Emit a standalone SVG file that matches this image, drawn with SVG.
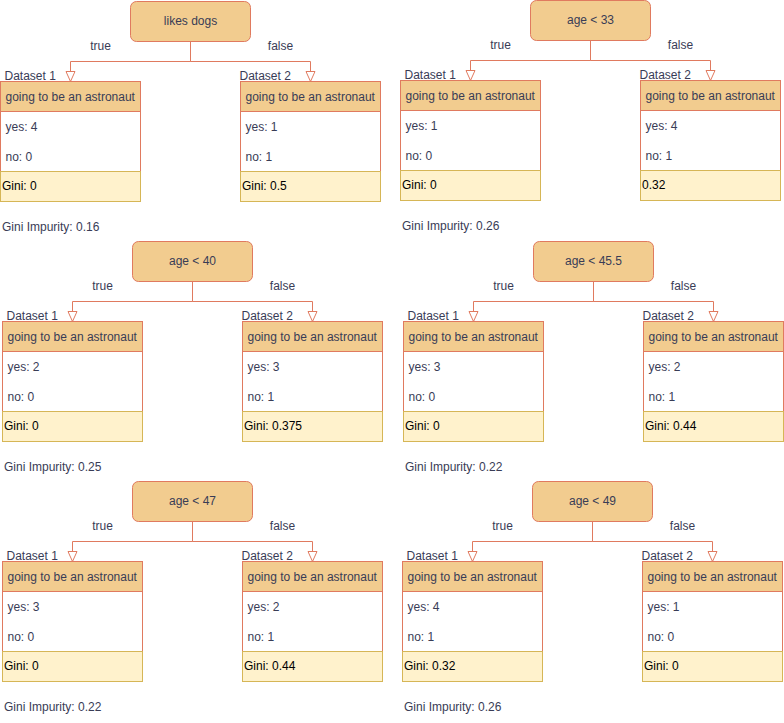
<svg xmlns="http://www.w3.org/2000/svg" width="784" height="723" viewBox="0 0 784 723">
<style>
text{font-family:"Liberation Sans",Arial,sans-serif;font-size:12px;fill:#393C56}
.c{text-anchor:middle}
.g{fill:#000}
.root{fill:#F2CC8F;stroke:#E07A5F;stroke-width:1}
.hdr{fill:#F2CC8F;stroke:#E07A5F;stroke-width:1}
.body{fill:#FFFFFF;stroke:#E07A5F;stroke-width:1}
.gini{fill:#FFF2CC;stroke:#D6B656;stroke-width:1}
.edge{fill:none;stroke:#E07A5F;stroke-width:1;marker-end:url(#arr)}
</style>
<defs>
<marker id="arr" markerUnits="userSpaceOnUse" markerWidth="12" markerHeight="12" viewBox="-1 -1 12 11" refX="10" refY="4.5" orient="auto">
<path d="M0,0 L10,4.5 L0,9 Z" fill="#FFFFFF" stroke="#E07A5F" stroke-width="1"/>
</marker>
</defs>
<rect width="784" height="723" fill="#FFFFFF"/>

<!-- Panel 1 -->
<g id="panel1" transform="translate(0.5,81.5)">
<g id="connectors1"><path class="edge" d="M190,-40 V-20 H70 V0"/><path class="edge" d="M190,-40 V-20 H310 V0"/>
<text class="c" x="100" y="-32">true</text><text class="c" x="280" y="-32">false</text></g>
<g id="p1-root"><rect class="root" x="130" y="-80" width="120" height="40" rx="6"/><text class="c" x="190" y="-57">likes dogs</text></g>
<g id="p1-d1"><text x="4" y="-2">Dataset 1</text><rect class="body" x="0" y="0" width="140" height="90"/><rect class="hdr" x="0" y="0" width="140" height="30"/><text x="5" y="19">going to be an astronaut</text><text x="5" y="49">yes: 4</text><text x="5" y="79">no: 0</text><rect class="gini" x="0" y="90" width="140" height="30"/><text class="g" x="1.5" y="108">Gini: 0</text></g>
<g id="p1-d2"><text x="239" y="-2">Dataset 2</text><rect class="body" x="240" y="0" width="140" height="90"/><rect class="hdr" x="240" y="0" width="140" height="30"/><text x="245" y="19">going to be an astronaut</text><text x="245" y="49">yes: 1</text><text x="245" y="79">no: 1</text><rect class="gini" x="240" y="90" width="140" height="30"/><text class="g" x="241.5" y="108">Gini: 0.5</text></g>
<g id="p1-imp"><text x="1.5" y="149">Gini Impurity: 0.16</text></g>
</g>

<!-- Panel 2 -->
<g id="panel2" transform="translate(400.5,80.5)">
<g id="connectors2"><path class="edge" d="M190,-40 V-20 H70 V0"/><path class="edge" d="M190,-40 V-20 H310 V0"/>
<text class="c" x="100" y="-32">true</text><text class="c" x="280" y="-32">false</text></g>
<g id="p2-root"><rect class="root" x="130" y="-80" width="120" height="40" rx="6"/><text class="c" x="190" y="-57">age &lt; 33</text></g>
<g id="p2-d1"><text x="4" y="-2">Dataset 1</text><rect class="body" x="0" y="0" width="140" height="90"/><rect class="hdr" x="0" y="0" width="140" height="30"/><text x="5" y="19">going to be an astronaut</text><text x="5" y="49">yes: 1</text><text x="5" y="79">no: 0</text><rect class="gini" x="0" y="90" width="140" height="30"/><text class="g" x="1.5" y="108">Gini: 0</text></g>
<g id="p2-d2"><text x="239" y="-2">Dataset 2</text><rect class="body" x="240" y="0" width="140" height="90"/><rect class="hdr" x="240" y="0" width="140" height="30"/><text x="245" y="19">going to be an astronaut</text><text x="245" y="49">yes: 4</text><text x="245" y="79">no: 1</text><rect class="gini" x="240" y="90" width="140" height="30"/><text class="g" x="241.5" y="108">0.32</text></g>
<g id="p2-imp"><text x="1.5" y="149">Gini Impurity: 0.26</text></g>
</g>

<!-- Panel 3 -->
<g id="panel3" transform="translate(2.5,321.5)">
<g id="connectors3"><path class="edge" d="M190,-40 V-20 H70 V0"/><path class="edge" d="M190,-40 V-20 H310 V0"/>
<text class="c" x="100" y="-32">true</text><text class="c" x="280" y="-32">false</text></g>
<g id="p3-root"><rect class="root" x="130" y="-80" width="120" height="40" rx="6"/><text class="c" x="190" y="-57">age &lt; 40</text></g>
<g id="p3-d1"><text x="4" y="-2">Dataset 1</text><rect class="body" x="0" y="0" width="140" height="90"/><rect class="hdr" x="0" y="0" width="140" height="30"/><text x="5" y="19">going to be an astronaut</text><text x="5" y="49">yes: 2</text><text x="5" y="79">no: 0</text><rect class="gini" x="0" y="90" width="140" height="30"/><text class="g" x="1.5" y="108">Gini: 0</text></g>
<g id="p3-d2"><text x="239" y="-2">Dataset 2</text><rect class="body" x="240" y="0" width="140" height="90"/><rect class="hdr" x="240" y="0" width="140" height="30"/><text x="245" y="19">going to be an astronaut</text><text x="245" y="49">yes: 3</text><text x="245" y="79">no: 1</text><rect class="gini" x="240" y="90" width="140" height="30"/><text class="g" x="241.5" y="108">Gini: 0.375</text></g>
<g id="p3-imp"><text x="1.5" y="149">Gini Impurity: 0.25</text></g>
</g>

<!-- Panel 4 -->
<g id="panel4" transform="translate(403.5,321.5)">
<g id="connectors4"><path class="edge" d="M190,-40 V-20 H70 V0"/><path class="edge" d="M190,-40 V-20 H310 V0"/>
<text class="c" x="100" y="-32">true</text><text class="c" x="280" y="-32">false</text></g>
<g id="p4-root"><rect class="root" x="130" y="-80" width="120" height="40" rx="6"/><text class="c" x="190" y="-57">age &lt; 45.5</text></g>
<g id="p4-d1"><text x="4" y="-2">Dataset 1</text><rect class="body" x="0" y="0" width="140" height="90"/><rect class="hdr" x="0" y="0" width="140" height="30"/><text x="5" y="19">going to be an astronaut</text><text x="5" y="49">yes: 3</text><text x="5" y="79">no: 0</text><rect class="gini" x="0" y="90" width="140" height="30"/><text class="g" x="1.5" y="108">Gini: 0</text></g>
<g id="p4-d2"><text x="239" y="-2">Dataset 2</text><rect class="body" x="240" y="0" width="140" height="90"/><rect class="hdr" x="240" y="0" width="140" height="30"/><text x="245" y="19">going to be an astronaut</text><text x="245" y="49">yes: 2</text><text x="245" y="79">no: 1</text><rect class="gini" x="240" y="90" width="140" height="30"/><text class="g" x="241.5" y="108">Gini: 0.44</text></g>
<g id="p4-imp"><text x="1.5" y="149">Gini Impurity: 0.22</text></g>
</g>

<!-- Panel 5 -->
<g id="panel5" transform="translate(2.5,561.5)">
<g id="connectors5"><path class="edge" d="M190,-40 V-20 H70 V0"/><path class="edge" d="M190,-40 V-20 H310 V0"/>
<text class="c" x="100" y="-32">true</text><text class="c" x="280" y="-32">false</text></g>
<g id="p5-root"><rect class="root" x="130" y="-80" width="120" height="40" rx="6"/><text class="c" x="190" y="-57">age &lt; 47</text></g>
<g id="p5-d1"><text x="4" y="-2">Dataset 1</text><rect class="body" x="0" y="0" width="140" height="90"/><rect class="hdr" x="0" y="0" width="140" height="30"/><text x="5" y="19">going to be an astronaut</text><text x="5" y="49">yes: 3</text><text x="5" y="79">no: 0</text><rect class="gini" x="0" y="90" width="140" height="30"/><text class="g" x="1.5" y="108">Gini: 0</text></g>
<g id="p5-d2"><text x="239" y="-2">Dataset 2</text><rect class="body" x="240" y="0" width="140" height="90"/><rect class="hdr" x="240" y="0" width="140" height="30"/><text x="245" y="19">going to be an astronaut</text><text x="245" y="49">yes: 2</text><text x="245" y="79">no: 1</text><rect class="gini" x="240" y="90" width="140" height="30"/><text class="g" x="241.5" y="108">Gini: 0.44</text></g>
<g id="p5-imp"><text x="1.5" y="149">Gini Impurity: 0.22</text></g>
</g>

<!-- Panel 6 -->
<g id="panel6" transform="translate(402.5,561.5)">
<g id="connectors6"><path class="edge" d="M190,-40 V-20 H70 V0"/><path class="edge" d="M190,-40 V-20 H310 V0"/>
<text class="c" x="100" y="-32">true</text><text class="c" x="280" y="-32">false</text></g>
<g id="p6-root"><rect class="root" x="130" y="-80" width="120" height="40" rx="6"/><text class="c" x="190" y="-57">age &lt; 49</text></g>
<g id="p6-d1"><text x="4" y="-2">Dataset 1</text><rect class="body" x="0" y="0" width="140" height="90"/><rect class="hdr" x="0" y="0" width="140" height="30"/><text x="5" y="19">going to be an astronaut</text><text x="5" y="49">yes: 4</text><text x="5" y="79">no: 1</text><rect class="gini" x="0" y="90" width="140" height="30"/><text class="g" x="1.5" y="108">Gini: 0.32</text></g>
<g id="p6-d2"><text x="239" y="-2">Dataset 2</text><rect class="body" x="240" y="0" width="140" height="90"/><rect class="hdr" x="240" y="0" width="140" height="30"/><text x="245" y="19">going to be an astronaut</text><text x="245" y="49">yes: 1</text><text x="245" y="79">no: 0</text><rect class="gini" x="240" y="90" width="140" height="30"/><text class="g" x="241.5" y="108">Gini: 0</text></g>
<g id="p6-imp"><text x="1.5" y="149">Gini Impurity: 0.26</text></g>
</g>
</svg>
